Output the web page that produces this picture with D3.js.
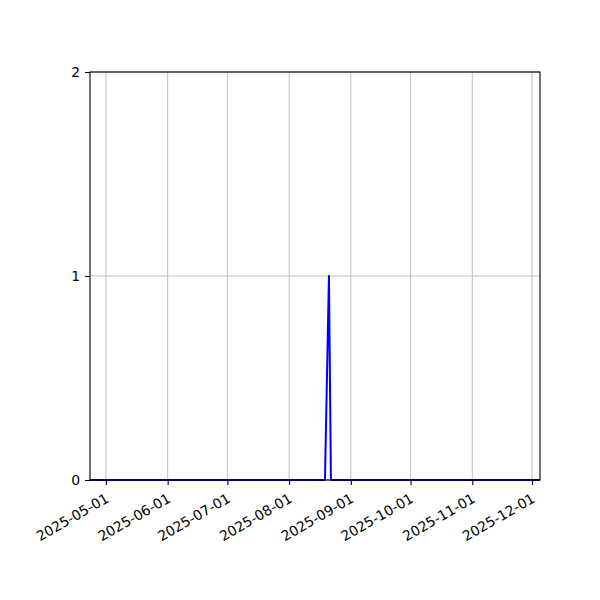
<!DOCTYPE html>
<html>
<head>
<meta charset="utf-8">
<script src="https://cdn.jsdelivr.net/npm/d3@7"></script>
<style>
  body { margin: 0; background: #fff; }
  text { font-family: "DejaVu Sans", sans-serif; }
</style>
</head>
<body>
<div id="viz"></div>
<script>
// series breakpoints (value is 0 everywhere except the one spike)
let dates = ['2025-04-23', '2025-08-19', '2025-08-21', '2025-08-22', '2025-12-05']
let values = [0, 0, 1, 0, 0]

let xTickLabels = ['2025-05-01', '2025-06-01', '2025-07-01', '2025-08-01',
  '2025-09-01', '2025-10-01', '2025-11-01', '2025-12-01']
let yTicks = [0, 1, 2]

let parse = d3.timeParse('%Y-%m-%d')
let fmt = d3.timeFormat('%Y-%m-%d')

let plotLeft = 90, plotRight = 540, plotTop = 72, plotBottom = 480

let svg = d3.select('#viz')
  .append('svg')
  .attr('width', 600)
  .attr('height', 600)

let x = d3.scaleTime()
  .domain([parse(dates[0]), parse(dates[dates.length - 1])])
  .range([plotLeft, plotRight])

let y = d3.scaleLinear()
  .domain([0, 2])
  .range([plotBottom, plotTop])

let xTicks = xTickLabels.map(parse)

// grid
svg.append('g')
  .selectAll('line')
  .data(xTicks)
  .join('line')
  .attr('x1', d => x(d))
  .attr('x2', d => x(d))
  .attr('y1', plotTop)
  .attr('y2', plotBottom)
  .attr('stroke', '#b0b0b0')
  .attr('stroke-width', 0.8)

svg.append('g')
  .selectAll('line')
  .data(yTicks)
  .join('line')
  .attr('x1', plotLeft)
  .attr('x2', plotRight)
  .attr('y1', d => y(d))
  .attr('y2', d => y(d))
  .attr('stroke', '#b0b0b0')
  .attr('stroke-width', 0.8)

// the series
let pts = dates.map((d, i) => [parse(d), values[i]])
svg.append('path')
  .datum(pts)
  .attr('fill', 'none')
  .attr('stroke', '#0000ff')
  .attr('stroke-width', 2)
  .attr('stroke-linejoin', 'round')
  .attr('d', d3.line().x(d => x(d[0])).y(d => y(d[1])))

// frame
svg.append('rect')
  .attr('x', plotLeft)
  .attr('y', plotTop)
  .attr('width', plotRight - plotLeft)
  .attr('height', plotBottom - plotTop)
  .attr('fill', 'none')
  .attr('stroke', '#000')
  .attr('stroke-width', 1.1)

// axes
let xAxis = svg.append('g')
  .attr('transform', `translate(0,${plotBottom})`)
  .call(d3.axisBottom(x).tickValues(xTicks).tickFormat(fmt).tickSizeOuter(0).tickSize(5))
xAxis.select('.domain').remove()
xAxis.selectAll('line').attr('stroke-width', 1.1)
xAxis.selectAll('text')
  .attr('font-size', 13.9)
  .attr('fill', '#000')
  .attr('text-anchor', 'end')
  .attr('x', 0)
  .attr('y', 0)
  .attr('dy', '0.35em')
  .attr('transform', 'translate(1,17) rotate(-30)')

let yAxis = svg.append('g')
  .attr('transform', `translate(${plotLeft},0)`)
  .call(d3.axisLeft(y).tickValues(yTicks).tickFormat(d3.format('d')).tickSizeOuter(0).tickSize(5).tickPadding(5))
yAxis.select('.domain').remove()
yAxis.selectAll('line').attr('stroke-width', 1.1)
yAxis.selectAll('text')
  .attr('font-size', 13.9)
  .attr('fill', '#000')
</script>
</body>
</html>
